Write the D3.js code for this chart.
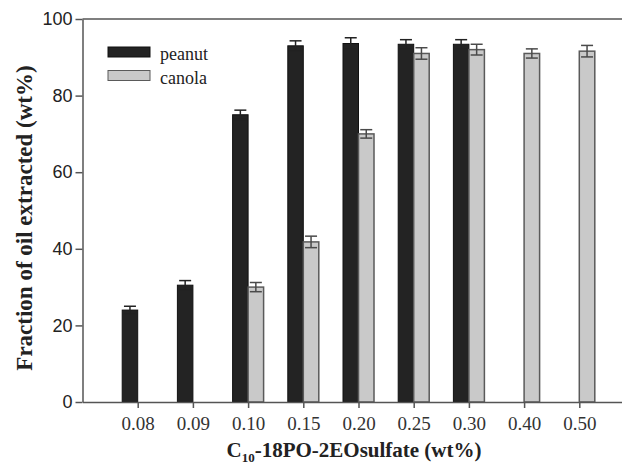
<!DOCTYPE html>
<html>
<head>
<meta charset="utf-8">
<script src="https://cdn.jsdelivr.net/npm/d3@7"></script>
<style>
  html, body { margin: 0; padding: 0; background: #fff; }
  svg { display: block; }
  .serif { font-family: "Liberation Serif", "Times New Roman", Times, serif; }
  .sans { font-family: "Liberation Sans", Arial, Helvetica, sans-serif; }
</style>
</head>
<body>
<svg id="chart" width="622" height="465"></svg>
<script>
const categories = ["0.08", "0.09", "0.10", "0.15", "0.20", "0.25", "0.30", "0.40", "0.50"];
const peanut    = [24.0, 30.5, 75.0, 93.0, 93.6, 93.4, 93.4, null, null];
const peanutErr = [1.0, 1.2, 1.2, 1.3, 1.5, 1.2, 1.2, null, null];
const canola    = [null, null, 30.0, 41.8, 70.0, 91.0, 92.0, 91.0, 91.6];
const canolaErr = [null, null, 1.2, 1.5, 1.1, 1.5, 1.4, 1.2, 1.5];
const yTicks = [0, 20, 40, 60, 80, 100];
const seriesNames = ["peanut", "canola"];

const svg = d3.select("#chart");
const plotLeft = 82.5, plotRight = 634.5, plotTop = 19, plotBottom = 402;

const x = d3.scalePoint().domain(categories).range([plotLeft, plotRight]).padding(1);
const y = d3.scaleLinear().domain([0, 100]).range([plotBottom, plotTop]);
const barW = 15.5, capW = 12;

const axisColor = "#555";

const g = svg.append("g");
categories.forEach((c, i) => {
  if (peanut[i] != null) {
    g.append("rect")
      .attr("x", x(c) - barW).attr("y", y(peanut[i]))
      .attr("width", barW).attr("height", y(0) - y(peanut[i]))
      .attr("fill", "#232323").attr("stroke", "#111").attr("stroke-width", 1);
  }
  if (canola[i] != null) {
    g.append("rect")
      .attr("x", x(c)).attr("y", y(canola[i]))
      .attr("width", barW).attr("height", y(0) - y(canola[i]))
      .attr("fill", "#c9c9c9").attr("stroke", "#5a5a5a").attr("stroke-width", 1.5);
  }
});

function errBar(cx, v, e, color) {
  const eg = g.append("g").attr("stroke", color).attr("stroke-width", 1.5);
  eg.append("line").attr("x1", cx).attr("x2", cx).attr("y1", y(v + e)).attr("y2", y(v - e));
  eg.append("line").attr("x1", cx - capW / 2).attr("x2", cx + capW / 2).attr("y1", y(v + e)).attr("y2", y(v + e));
  eg.append("line").attr("x1", cx - capW / 2).attr("x2", cx + capW / 2).attr("y1", y(v - e)).attr("y2", y(v - e));
}
categories.forEach((c, i) => {
  if (peanut[i] != null) errBar(x(c) - barW / 2, peanut[i], peanutErr[i], "#222");
  if (canola[i] != null) errBar(x(c) + barW / 2, canola[i], canolaErr[i], "#4a4a4a");
});

const yAxis = svg.append("g").attr("transform", `translate(${plotLeft},0)`)
  .call(d3.axisLeft(y).tickValues(yTicks).tickSize(7).tickPadding(3).tickSizeOuter(0));
yAxis.attr("font-family", null).attr("font-size", null);
yAxis.selectAll("text").attr("class", "sans").style("font-size", "18px").attr("fill", "#222");
yAxis.selectAll("line, path").attr("stroke", axisColor).attr("stroke-width", 1.5);

const xAxis = svg.append("g").attr("transform", `translate(0,${plotBottom})`)
  .call(d3.axisBottom(x).tickSize(6).tickPadding(9).tickSizeOuter(0));
xAxis.attr("font-family", null).attr("font-size", null);
xAxis.selectAll("text").attr("class", "serif").style("font-size", "19px").attr("fill", "#333");
xAxis.selectAll("line, path").attr("stroke", axisColor).attr("stroke-width", 1.5);

svg.append("line").attr("x1", plotLeft).attr("x2", plotRight).attr("y1", plotTop).attr("y2", plotTop)
  .attr("stroke", axisColor).attr("stroke-width", 1.5);

const legend = svg.append("g");
const legFill = ["#232323", "#c9c9c9"], legStroke = ["#111", "#5a5a5a"];
seriesNames.forEach((n, i) => {
  legend.append("rect").attr("x", 108).attr("y", 47 + i * 23.5).attr("width", 42).attr("height", 10)
    .attr("fill", legFill[i]).attr("stroke", legStroke[i]).attr("stroke-width", 1);
  legend.append("text").attr("x", 160).attr("y", 60 + i * 23.5).text(n)
    .attr("class", "serif").style("font-size", "18px").attr("fill", "#222");
});

const xt = svg.append("text").attr("x", 354).attr("y", 457).attr("text-anchor", "middle")
  .attr("class", "serif").style("font-weight", "bold").style("font-size", "21px").attr("fill", "#222");
xt.append("tspan").text("C");
xt.append("tspan").attr("dy", 5).style("font-size", "13px").text("10");
xt.append("tspan").attr("dy", -5).text("-18PO-2EOsulfate (wt%)");

svg.append("text").attr("transform", "translate(32,218) rotate(-90)").attr("text-anchor", "middle")
  .attr("class", "serif").style("font-weight", "bold").style("font-size", "23px").attr("fill", "#222")
  .text("Fraction of oil extracted (wt%)");
</script>
</body>
</html>
